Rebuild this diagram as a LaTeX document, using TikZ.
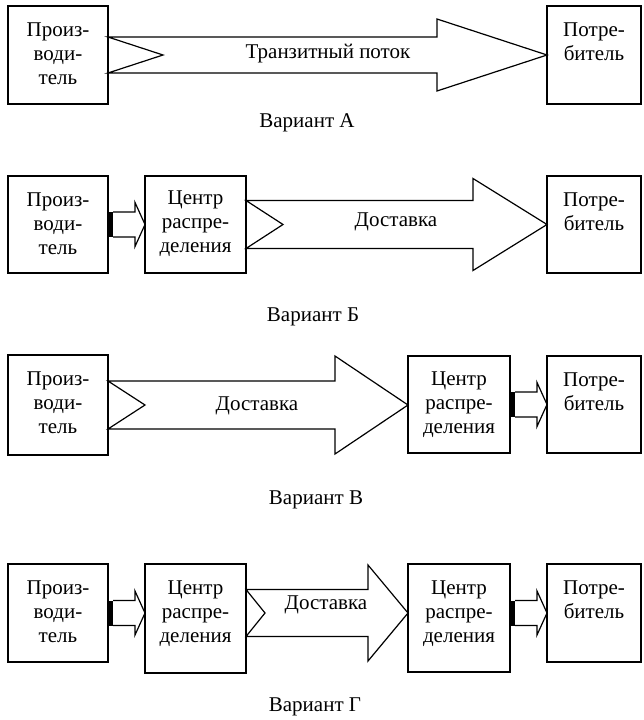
\documentclass[tikz,border=0pt]{standalone}
\usepackage{fontspec}
\setmainfont{Liberation Serif}
\usetikzlibrary{positioning,calc}

% wide hollow arrow with a notch at its tail
\newcommand{\bigarrow}[6]{%
  \coordinate (s) at (#1);
  \coordinate (t) at (#2 |- s);
  \draw[flow] ($(s)+(0,-#5)$) -- ($(t)+(-#4,-#5)$) -- ($(t)+(-#4,-#6)$) -- (t)
    -- ($(t)+(-#4,#6)$) -- ($(t)+(-#4,#5)$) -- ($(s)+(0,#5)$) -- ($(s)+(#3,0)$) -- cycle;}
% short arrow with a black bar at its tail
\newcommand{\smallarrow}[2]{%
  \coordinate (s) at (#1);
  \coordinate (t) at (#2 |- s);
  \fill ($(s)+(0,-12.5)$) rectangle ($(s)+(5,12.5)$);
  \draw[flow] ($(s)+(5,-12.5)$) -- ($(t)+(-10,-12.5)$) -- ($(t)+(-10,-22)$) -- (t)
    -- ($(t)+(-10,22)$) -- ($(t)+(-10,12.5)$) -- ($(s)+(5,12.5)$);}

\begin{document}
\begin{tikzpicture}[x=1pt,y=-1pt,
    box/.style={draw, line width=1.2pt, anchor=north west, inner sep=0pt, outer sep=0pt},
    boxtext/.style={align=center, inner sep=0pt, font=\fontsize{21}{24}\selectfont},
    lbl/.style={inner sep=0pt, font=\fontsize{21}{24}\selectfont},
    flow/.style={line width=1.2pt, line join=miter}]
    \useasboundingbox (0,0) rectangle (643,720);

    % Variant A
    \node[box, minimum width=100pt, minimum height=98pt] (pa) at (8,6) {};
    \node[box, minimum width=94pt, minimum height=98pt] (ca) at (547,6) {};
    \node[boxtext, below=17pt of pa.north] (pa-t) {Произ-\\води-\\тель};
    \node[boxtext, below=17pt of ca.north] (ca-t) {Потре-\\битель};
    \bigarrow{pa.east}{ca.west}{55}{110}{18}{36}
    \node[lbl] (ta) at (328,54) {Транзитный поток};
    \node[lbl] (va) at (307,123) {Вариант А};

    % Variant B
    \node[box, minimum width=100pt, minimum height=97pt] (pb) at (8,176) {};
    \node[box, minimum width=101pt, minimum height=97pt] (db) at (145,176) {};
    \node[box, minimum width=94pt, minimum height=97pt] (cb) at (547,176) {};
    \node[boxtext, below=17pt of pb.north] (pb-t) {Произ-\\води-\\тель};
    \node[boxtext, below=15pt of db.north] (db-t) {Центр\\распре-\\деления};
    \node[boxtext, below=17pt of cb.north] (cb-t) {Потре-\\битель};
    \smallarrow{pb.east}{db.west}
    \bigarrow{db.east}{cb.west}{37}{74}{24}{46}
    \node[lbl] (tb) at (396,222) {Доставка};
    \node[lbl] (vb) at (313,317) {Вариант Б};

    % Variant V
    \node[box, minimum width=100pt, minimum height=100pt] (pv) at (8,355) {};
    \node[box, minimum width=102pt, minimum height=97pt] (dv) at (408,356) {};
    \node[box, minimum width=94pt, minimum height=97pt] (cv) at (547,356) {};
    \node[boxtext, below=17pt of pv.north] (pv-t) {Произ-\\води-\\тель};
    \node[boxtext, below=16pt of dv.north] (dv-t) {Центр\\распре-\\деления};
    \node[boxtext, below=17pt of cv.north] (cv-t) {Потре-\\битель};
    \bigarrow{pv.east}{dv.west}{37}{73}{24}{49}
    \smallarrow{dv.east}{cv.west}
    \node[lbl] (tv) at (257,406) {Доставка};
    \node[lbl] (vv) at (316,500) {Вариант В};

    % Variant G
    \node[box, minimum width=100pt, minimum height=98pt] (pg) at (8,564) {};
    \node[box, minimum width=101pt, minimum height=109pt] (dg1) at (145,564) {};
    \node[box, minimum width=102pt, minimum height=108pt] (dg2) at (408,564) {};
    \node[box, minimum width=94pt, minimum height=98pt] (cg) at (547,564) {};
    \node[boxtext, below=17pt of pg.north] (pg-t) {Произ-\\води-\\тель};
    \node[boxtext, below=17pt of dg1.north] (dg1-t) {Центр\\распре-\\деления};
    \node[boxtext, below=17pt of dg2.north] (dg2-t) {Центр\\распре-\\деления};
    \node[boxtext, below=17pt of cg.north] (cg-t) {Потре-\\битель};
    \smallarrow{pg.east}{dg1.west}
    \bigarrow{dg1.east |- pg.east}{dg2.west}{19}{40}{23.5}{48}
    \smallarrow{dg2.east |- pg.east}{cg.west}
    \node[lbl] (tg) at (326,605) {Доставка};
    \node[lbl] (vg) at (315,707) {Вариант Г};
\end{tikzpicture}
\end{document}
